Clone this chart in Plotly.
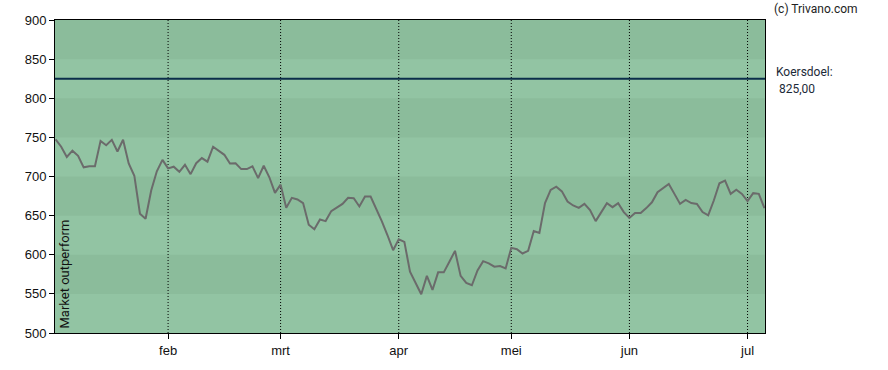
import plotly.graph_objects as go

# Closing prices per trading day (index 0 = first day shown)
prices = [
    747.6, 738, 725, 733, 726.5, 711.7, 713, 713, 745.5, 740,
    746.8, 732, 747, 716.7, 701, 652.4, 646, 682, 706.6, 721.3,
    710.4, 712.5, 706, 715, 703, 717, 723.5, 719, 738, 733,
    727.7, 716.7, 717, 709.5, 709.5, 713, 698, 713.7, 699, 679,
    689.6, 660, 672.7, 670.6, 666, 638.4, 632.5, 645, 643, 655.8,
    660.8, 665, 672.7, 672.3, 661.7, 674.4, 674.4, 658.7, 642.6, 624.9,
    605.8, 619.8, 616.4, 578.3, 564, 549.5, 573, 555, 577.5, 577.5,
    591, 605, 573, 564, 561, 580, 591.8, 589, 584.7, 585.5,
    582.5, 608.8, 607, 601.6, 605, 630.4, 627.8, 666, 682.8, 687,
    681, 668, 663, 660, 665, 657, 643, 655.3, 666, 660.8,
    666, 654.5, 647, 653.3, 653.3, 659.6, 667, 680, 685, 690.5,
    677.8, 665, 670, 666, 665, 654.5, 650.3, 669.3, 691.3, 694.7,
    677.8, 683, 677.8, 668.5, 678.7, 677.8, 659.6,
]
x_idx = list(range(len(prices)))

month_ticks = [20, 40, 61, 81, 102, 123]
month_labels = ["feb", "mrt", "apr", "mei", "jun", "jul"]

target = 825
target_label = "Koersdoel:"
target_value_text = "825,00"
rating = "Market outperform"

y_min, y_max, band_step = 500, 900, 50
dark_band = "#8bbc9b"
light_band = "#92c4a3"

fig = go.Figure()

fig.add_trace(go.Scatter(
    x=x_idx, y=prices, mode="lines",
    line=dict(color="#6b6b6b", width=2),
    hoverinfo="skip", showlegend=False,
))

shapes = []
# dark bands over a light background: 850-900, 750-800, 650-700, 550-600
hi = y_max
while hi > y_min:
    lo = hi - band_step
    shapes.append(dict(type="rect", xref="paper", yref="y", x0=0, x1=1,
                       y0=lo, y1=hi, fillcolor=dark_band, line=dict(width=0),
                       layer="below"))
    hi -= 2 * band_step
for t in month_ticks:
    shapes.append(dict(type="line", xref="x", yref="paper", x0=t, x1=t,
                       y0=0, y1=1, line=dict(color="black", width=1, dash="1px,2px"),
                       layer="below"))
shapes.append(dict(type="line", xref="paper", yref="y", x0=0, x1=1,
                   y0=target, y1=target,
                   line=dict(color="#0b2e4a", width=2), layer="above"))
fig.update_layout(shapes=shapes)

fig.update_layout(
    width=888, height=370,
    margin=dict(l=55, r=123, t=20, b=35),
    paper_bgcolor="white",
    plot_bgcolor=light_band,
    font=dict(family="Liberation Sans, Arial, sans-serif", size=13, color="#111"),
    xaxis=dict(
        range=[-0.1, len(prices) - 0.9],
        tickmode="array", tickvals=month_ticks, ticktext=month_labels,
        ticks="outside", ticklen=5, tickcolor="black",
        showgrid=False,
        showline=True, linecolor="black", linewidth=1, mirror=True,
        zeroline=False, fixedrange=True,
    ),
    yaxis=dict(
        range=[y_min, y_max],
        tickmode="array", tickvals=list(range(y_min, y_max + 1, band_step)),
        ticks="outside", ticklen=5, tickcolor="black",
        showgrid=False,
        showline=True, linecolor="black", linewidth=1, mirror=True,
        zeroline=False, fixedrange=True,
    ),
    annotations=[
        dict(text="(c) Trivano.com", xref="paper", yref="paper",
             x=1.0, xshift=7, y=1.0, yshift=11, xanchor="left", yanchor="middle",
             showarrow=False, font=dict(family="Roboto", size=12, color="#222")),
        dict(text=target_label, xref="paper", yref="y",
             x=1.0, xshift=9, y=target, yshift=7, xanchor="left", yanchor="middle",
             showarrow=False, font=dict(family="Roboto", size=12, color="#1c2a38")),
        dict(text=target_value_text, xref="paper", yref="y",
             x=1.0, xshift=12, y=target, yshift=-10, xanchor="left", yanchor="middle",
             showarrow=False, font=dict(family="Roboto", size=12, color="#1c2a38")),
        dict(text=rating, xref="paper", yref="paper",
             x=0, xshift=9, y=0, yshift=2, xanchor="center", yanchor="bottom",
             textangle=-90, showarrow=False,
             font=dict(family="Roboto", size=13, color="#111")),
    ],
)

fig.write_html("out.html")
